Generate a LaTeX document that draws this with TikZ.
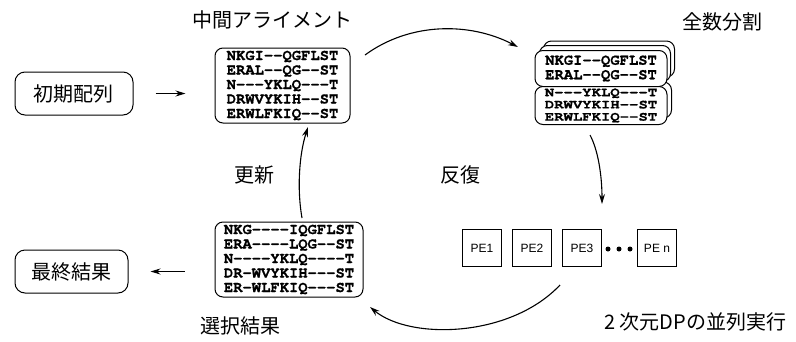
\documentclass[tikz,border=0pt]{standalone}
\usepackage{fontspec}
\newfontfamily\jp{Noto Sans CJK JP}
\newfontfamily\mono{texgyrecursor-bold.otf}[FakeBold=0.8]
\newfontfamily\monoc{texgyrecursor-bold.otf}[FakeBold=0.8, FakeStretch=1.2]
\newfontfamily\pe{Liberation Sans}
\usetikzlibrary{arrows.meta}
\begin{document}
\begin{tikzpicture}[x=1pt,y=-1pt,
  lbl/.style={font=\jp\fontsize{20}{20}\selectfont, inner sep=0},
  startbox/.style={draw, rounded corners=10pt, line width=1pt, minimum height=43pt, inner sep=0, font=\jp\fontsize{20}{20}\selectfont},
  alnbox/.style={draw, rounded corners=8pt, line width=1pt, inner sep=0, align=left, fill=white, font=\mono\fontsize{15.5}{14.5}\selectfont},
  pebox/.style={draw, line width=0.8pt, minimum width=39pt, minimum height=37pt, inner sep=0, font=\pe\fontsize{12}{12}\selectfont},
  arr/.style={line width=1.1pt, -{Stealth[length=10pt,width=6pt]}},
  dot/.style={circle, fill, inner sep=0, minimum size=5pt},
]
\useasboundingbox (0,0) rectangle (796,341);

% left boxes
\node[startbox, minimum width=118pt] (init) at (74,93.5) {初期配列};
\node[startbox, minimum width=113pt] (fin) at (71.5,271.5) {最終結果};

% intermediate alignment
\node[lbl] (midlbl) at (272,20) {中間アライメント};
\node[alnbox, minimum width=135pt, minimum height=75pt] (mid) at (282.5,85.5)
 {NKGI{-}{-}QGFLST\\ERAL{-}{-}QG{-}{-}ST\\N{-}{-}{-}YKLQ{-}{-}{-}T\\DRWVYKIH{-}{-}ST\\ERWLFKIQ{-}{-}ST};

% selection result
\node[alnbox, minimum width=148pt, minimum height=75pt] (sel) at (289,259.5)
 {NKG{-}{-}{-}{-}IQGFLST\\ERA{-}{-}{-}{-}LQG{-}{-}ST\\N{-}{-}{-}{-}YKLQ{-}{-}{-}{-}T\\DR{-}WVYKIH{-}{-}{-}ST\\ER{-}WLFKIQ{-}{-}{-}ST};
\node[lbl] (sellbl) at (240,326) {選択結果};

% full split (stacked)
\node[lbl] (splitlbl) at (722,22) {全数分割};
\node[alnbox, minimum width=131pt, minimum height=36pt] (back2) at (609,59) {};
\node[alnbox, minimum width=131pt, minimum height=36pt] (back1) at (605,63.5) {};
\node[alnbox, minimum width=131pt, minimum height=36pt] (back3) at (606,100) {};
\node[alnbox, minimum width=132pt, minimum height=36pt] (splitA) at (601,68.5)
 {NKGI{-}{-}QGFLST\\ERAL{-}{-}QG{-}{-}ST};
\node[alnbox, minimum width=132pt, minimum height=38pt, font=\monoc\fontsize{13}{12.2}\selectfont] (splitB) at (601,105.5)
 {N{-}{-}{-}YKLQ{-}{-}{-}T\\DRWVYKIH{-}{-}ST\\ERWLFKIQ{-}{-}ST};

% PEs
\node[pebox] (pe1) at (482,248) {PE1};
\node[pebox] (pe2) at (532,248) {PE2};
\node[pebox] (pe3) at (582,248) {PE3};
\node[dot] (d1) at (608,249) {};
\node[dot] (d2) at (619,249) {};
\node[dot] (d3) at (630,249) {};
\node[pebox] (pen) at (657,248) {PE n};
\node[lbl] (dplbl) at (695,322) {2 次元DPの並列実行};

% middle labels
\node[lbl] (updlbl) at (254,175) {更新};
\node[lbl] (itlbl) at (460,175) {反復};

% straight arrows
\draw[arr, shorten <=22pt, shorten >=29pt] (init.east) -- (init.east -| mid.west);
\draw[arr, shorten <=30pt, shorten >=22pt] (fin.east -| sel.west) -- (fin.east);

% cycle arcs
\coordinate (a1) at (365,55);
\coordinate (a2) at (518,47);
\coordinate (b1) at (590,135);
\coordinate (b2) at (602,204);
\coordinate (c1) at (560,285);
\coordinate (c2) at (370,307);
\coordinate (e1) at (302,218);
\coordinate (e2) at (308,127);
\draw[arr] (a1) .. controls (410,22) and (470,22) .. (a2);
\draw[arr] (b1) .. controls (598,150) and (602,175) .. (b2);
\draw[arr] (c1) .. controls (510,338) and (410,340) .. (c2);
\draw[arr] (e1) .. controls (297,190) and (299,155) .. (e2);
\end{tikzpicture}
\end{document}
